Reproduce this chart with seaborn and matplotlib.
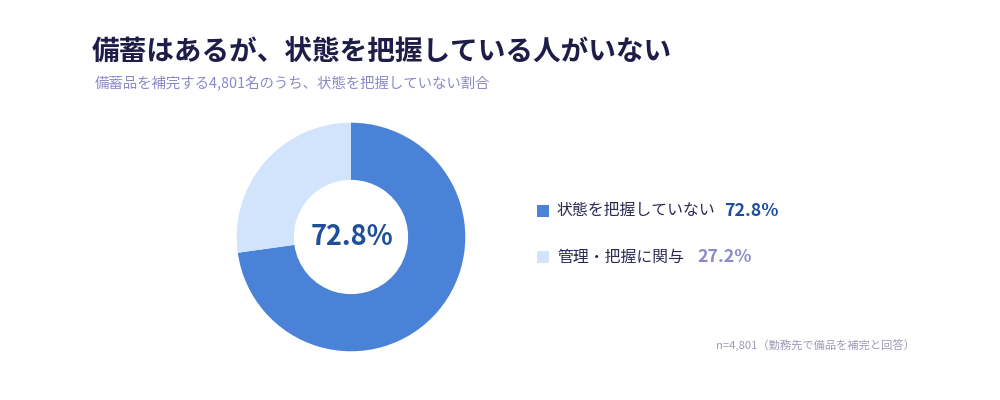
import matplotlib.pyplot as plt
import seaborn as sns

sns.set_theme(style="white")
plt.rcParams['font.family'] = ['Noto Sans CJK JP', 'DejaVu Sans']

# データ
labels = ['状態を把握していない', '管理・把握に関与']
values = [72.8, 27.2]
colors = ['#4a82d8', '#d2e4fb']
value_colors = ['#1f4f98', '#8b89c9']

title = '備蓄はあるが、状態を把握している人がいない'
subtitle = '備蓄品を補完する4,801名のうち、状態を把握していない割合'
note = 'n=4,801（勤務先で備品を補完と回答）'

fig = plt.figure(figsize=(10, 4), dpi=100)
fig.patch.set_facecolor('white')

# ドーナツ
ax = fig.add_axes([0.231, 0.1075, 0.24, 0.6])
ax.pie(values, colors=colors, startangle=90, counterclock=False,
       wedgeprops=dict(width=0.5, edgecolor='none'), radius=1)
ax.set_xlim(-1.05, 1.05)
ax.set_ylim(-1.05, 1.05)
ax.set_aspect('equal')
ax.axis('off')
ax.text(0.01, 0, f'{values[0]:.1f}%', ha='center', va='center',
        fontsize=19.5, fontweight='bold', color='#1f4f98')

# タイトル
fig.text(0.092, 0.868, title, fontsize=19.9, fontweight='bold', color='#1e1d48', va='center')
fig.text(0.095, 0.79, subtitle, fontsize=10.4, color='#8b89c9', va='center')

# 凡例
ys = [1 - 211 / 400, 1 - 257 / 400]
val_x = [0.724, 0.697]
for lab, v, c, vc, y, vx in zip(labels, values, colors, value_colors, ys, val_x):
    fig.patches.append(plt.Rectangle((0.537, y - 0.0155), 0.012, 0.031, transform=fig.transFigure,
                                     facecolor=c, edgecolor='none'))
    fig.text(0.557, y, lab, fontsize=11.4, color='#2b2a52', va='center')
    fig.text(vx, y, f'{v:.1f}%', fontsize=12.8, fontweight='bold', color=vc, va='center')

fig.text(0.915, 1 - 345 / 400, note, fontsize=8.1, color='#9c9bbb', ha='right', va='center')

plt.savefig('out.png', dpi=100)
